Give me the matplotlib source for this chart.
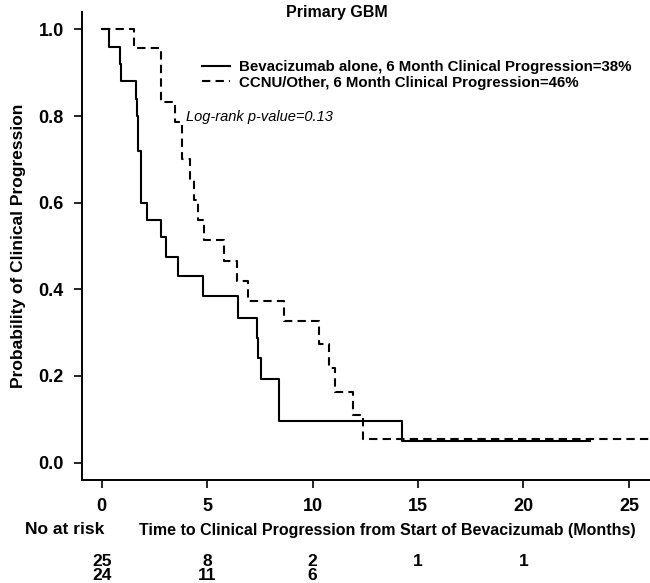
import numpy as np
import matplotlib
matplotlib.use('Agg')
import matplotlib.pyplot as plt
from matplotlib.transforms import blended_transform_factory

plt.rcParams['font.family'] = ['Liberation Sans', 'DejaVu Sans']

# Kaplan-Meier steps
bev_t = [0, 0.35, 0.87, 0.93, 1.61, 1.68, 1.74, 1.86, 2.16, 2.81, 3.05, 3.60,
         4.82, 6.48, 7.35, 7.43, 7.55, 8.42, 14.25, 23.15]
bev_p = [1.0, 0.96, 0.92, 0.88, 0.84, 0.80, 0.72, 0.60, 0.56, 0.52, 0.475, 0.43,
         0.385, 0.335, 0.288, 0.241, 0.192, 0.096, 0.050, 0.050]

ccnu_t = [0, 1.53, 2.80, 3.48, 3.79, 4.19, 4.38, 4.58, 4.85, 5.80, 6.40, 6.92,
          8.64, 10.29, 10.79, 11.06, 11.93, 12.37, 26.5]
ccnu_p = [1.0, 0.958, 0.833, 0.787, 0.70, 0.652, 0.606, 0.56, 0.515, 0.466, 0.419,
          0.373, 0.328, 0.273, 0.219, 0.162, 0.11, 0.054, 0.054]

risk_times = [0, 5, 10, 15, 20]
risk_bev = [25, 8, 2, 1, 1]
risk_ccnu = [24, 11, 6, None, None]

W, H = 650, 583
fig = plt.figure(figsize=(W / 100, H / 100), dpi=100)
ax = fig.add_axes([81.7 / W, 103 / H, 1 - 81.7 / W, (480 - 12) / H])

ax.step(bev_t, bev_p, where='post', color='black', lw=1.5,
        label='Bevacizumab alone, 6 Month Clinical Progression=38%')
ax.step(ccnu_t, ccnu_p, where='post', color='black', lw=1.5, dashes=(4, 2.5),
        label='CCNU/Other, 6 Month Clinical Progression=46%')

ax.set_xlim(-0.95, 26.0)
ax.set_ylim(-0.04, 1.04)
ax.set_xticks([0, 5, 10, 15, 20, 25])
ax.set_yticks([0.0, 0.2, 0.4, 0.6, 0.8, 1.0])
ax.set_yticklabels(['0.0', '0.2', '0.4', '0.6', '0.8', '1.0'])
for s in ['top', 'right']:
    ax.spines[s].set_visible(False)
for s in ['left', 'bottom']:
    ax.spines[s].set_linewidth(1.4)
ax.tick_params(direction='out', length=6, width=1.2, labelsize=13, pad=7)
for lab in ax.get_xticklabels() + ax.get_yticklabels():
    lab.set_fontweight('bold')

ax.set_ylabel('Probability of Clinical Progression', fontsize=12.5,
              fontweight='bold', labelpad=9)

fig.text(337 / W, 1 - 12 / H, 'Primary GBM', ha='center', va='center',
         fontsize=11.5, fontweight='bold')

leg = ax.legend(loc='upper left', bbox_to_anchor=(202 / W, 1 - 60 / H),
                bbox_transform=fig.transFigure, frameon=False,
                prop={'weight': 'bold', 'size': 10.8}, handlelength=1.9,
                handletextpad=0.6, labelspacing=0.1, borderaxespad=0,
                borderpad=0)

fig.text(186 / W, 1 - 117 / H, 'Log-rank p-value=0.13', ha='left', va='center',
         fontsize=10.5, style='italic')

fig.text(25 / W, 1 - 530 / H, 'No at risk', ha='left', va='center',
         fontsize=12.5, fontweight='bold')
fig.text(387 / W, 1 - 530 / H,
         'Time to Clinical Progression from Start of Bevacizumab (Months)',
         ha='center', va='center', fontsize=11.5, fontweight='bold')

tr = blended_transform_factory(ax.transData, fig.transFigure)
for t, a, b in zip(risk_times, risk_bev, risk_ccnu):
    ax.text(t, 1 - 561 / H, str(a), transform=tr, ha='center', va='center',
            fontsize=12.5, fontweight='bold')
    if b is not None:
        ax.text(t, 1 - 575 / H, str(b), transform=tr, ha='center', va='center',
                fontsize=12.5, fontweight='bold')

fig.savefig('out.png', dpi=100)
